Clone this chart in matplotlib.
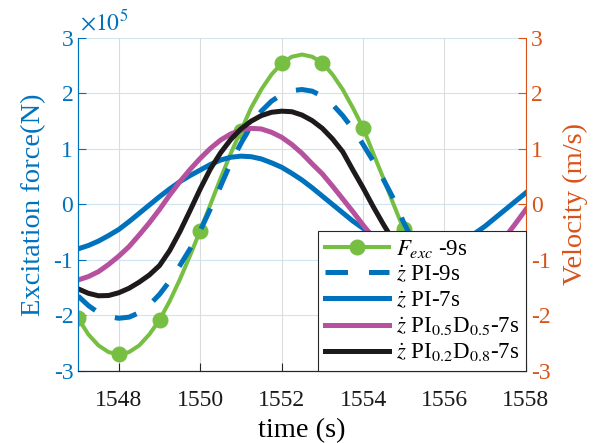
import numpy as np
import matplotlib
matplotlib.use("Agg")
import matplotlib.pyplot as plt

plt.rcParams['font.family'] = ['Liberation Serif', 'DejaVu Serif']
plt.rcParams['mathtext.fontset'] = 'stix'
plt.rcParams['axes.unicode_minus'] = False

# time samples every 0.25 s
t = np.arange(1547, 1558.001, 0.25)

# excitation force, units of 1e5 N (left axis)
F_exc = [-2.05, -2.34, -2.54, -2.66, -2.70, -2.66, -2.54, -2.34,
         -2.08, -1.74, -1.35, -0.92, -0.47, 0.00, 0.47, 0.92,
         1.33, 1.74, 2.07, 2.34, 2.54, 2.66, 2.70, 2.66,
         2.55, 2.34, 2.07, 1.74, 1.38, 0.92, 0.47, 0.00,
         -0.45, -0.92, -1.35, -1.74, -2.07, -2.34, -2.54, -2.66,
         -2.70, -2.66, -2.54, -2.34, -2.07]

# velocities, m/s (right axis)
v_PI_9s = [-1.65, -1.82, -1.95, -2.02, -2.05, -2.03, -1.95, -1.81,
           -1.62, -1.38, -1.10, -0.80, -0.47, -0.08, 0.33, 0.75,
           1.10, 1.42, 1.68, 1.86, 1.98, 2.05, 2.07, 2.04,
           1.95, 1.80, 1.60, 1.36, 1.08, 0.78, 0.45, 0.10,
           -0.33, -0.68, -1.00, -1.30, -1.55, -1.75, -1.90, -2.00,
           -2.05, -2.04, -1.98, -1.85, -1.65]
v_PI_7s = [-0.80, -0.74, -0.66, -0.56, -0.45, -0.31, -0.16, -0.01,
           0.14, 0.28, 0.41, 0.52, 0.62, 0.72, 0.80, 0.85,
           0.87, 0.86, 0.82, 0.75, 0.67, 0.56, 0.44, 0.30,
           0.15, 0.00, -0.15, -0.30, -0.43, -0.56, -0.67, -0.75,
           -0.82, -0.86, -0.87, -0.855, -0.81, -0.74, -0.64, -0.52,
           -0.39, -0.24, -0.09, 0.06, 0.21]
v_PID55_7s = [-1.36, -1.30, -1.21, -1.08, -0.93, -0.76, -0.55, -0.33,
              -0.09, 0.17, 0.41, 0.63, 0.83, 1.01, 1.16, 1.27,
              1.34, 1.37, 1.36, 1.30, 1.21, 1.08, 0.92, 0.73,
              0.55, 0.33, 0.10, -0.13, -0.37, -0.60, -0.84, -1.02,
              -1.16, -1.27, -1.34, -1.37, -1.36, -1.30, -1.21, -1.08,
              -0.92, -0.76, -0.58, -0.34, -0.09]
v_PID28_7s = [-1.52, -1.60, -1.645, -1.64, -1.59, -1.51, -1.40, -1.27,
              -1.10, -0.83, -0.49, -0.11, 0.28, 0.64, 0.93, 1.17,
              1.36, 1.50, 1.60, 1.66, 1.68, 1.67, 1.61, 1.51,
              1.37, 1.18, 0.95, 0.62, 0.30, -0.04, -0.36, -0.66,
              -0.93, -1.16, -1.35, -1.50, -1.60, -1.65, -1.66, -1.62,
              -1.55, -1.44, -1.28, -1.08, -0.85]

labels = [r'$F_{exc}$ -9s', r'$\dot{z}$ PI-9s', r'$\dot{z}$ PI-7s',
          r'$\dot{z}$ PI$_{0.5}$D$_{0.5}$-7s', r'$\dot{z}$ PI$_{0.2}$D$_{0.8}$-7s']

c_green = '#77BF43'
c_blue = '#0072BD'
c_mag = '#B5519F'
c_black = '#1E1A1B'
c_orange = '#D95319'

fig = plt.figure(figsize=(6.01, 4.43), dpi=100)
ax = fig.add_axes([0.13, 0.1625, 0.745, 0.752])
ax2 = ax.twinx()

l0, = ax.plot(t, F_exc, color=c_green, lw=2.9, marker='o', ms=10.5,
              markevery=4, label=labels[0])
l1, = ax2.plot(t, v_PI_9s, color=c_blue, lw=3.6, ls=(0, (4.5, 4.2)),
               dash_capstyle='butt', label=labels[1])
l2, = ax2.plot(t, v_PI_7s, color=c_blue, lw=3.6, label=labels[2])
l3, = ax2.plot(t, v_PID55_7s, color=c_mag, lw=3.6, label=labels[3])
l4, = ax2.plot(t, v_PID28_7s, color=c_black, lw=3.6, label=labels[4])

ax.set_xlim(1547, 1558)
ax.set_ylim(-3, 3)
ax2.set_ylim(-3, 3)
ax.set_xticks([1548, 1550, 1552, 1554, 1556, 1558])
ax.set_yticks([-3, -2, -1, 0, 1, 2, 3])
ax2.set_yticks([-3, -2, -1, 0, 1, 2, 3])

# grid like matlab
for y in [-3, -2, -1, 0, 1, 2, 3]:
    ax.axhline(y, color='#cfe3f1', lw=0.8, zorder=0)
for x in [1548, 1550, 1552, 1554, 1556, 1558]:
    ax.axvline(x, color='#dcdcdc', lw=0.8, zorder=0)

ax.spines['top'].set_visible(False)
ax2.spines['top'].set_visible(False)
ax.spines['right'].set_visible(False)
ax2.spines['left'].set_color(c_blue)
ax2.spines['right'].set_color(c_orange)
ax2.spines['bottom'].set_color('#262626')
ax.spines['left'].set_color(c_blue)
ax.spines['bottom'].set_color('#262626')

ax.tick_params(axis='y', colors=c_blue, direction='in', labelsize=17, length=6)
ax.tick_params(axis='x', colors='#262626', direction='in', labelsize=17,
               length=6, pad=14)
ax2.tick_params(axis='y', colors=c_orange, direction='in', labelsize=17,
                length=6)
for lab in ax.get_xticklabels():
    lab.set_color('#1a1a1a')

ax.set_ylabel('Excitation force(N)', color=c_blue, fontsize=20.5, labelpad=5)
ax2.set_ylabel('Velocity (m/s)', color=c_orange, fontsize=20.5, labelpad=9)
ax.set_xlabel('time (s)', fontsize=20.5, labelpad=5)

ax.text(0.005, 1.01, r'$\times10^{5}$', transform=ax.transAxes, color=c_blue,
        fontsize=17, ha='left', va='bottom')

leg = ax2.legend(handles=[l0, l1, l2, l3, l4], loc='lower right',
                 bbox_to_anchor=(1, 0), borderaxespad=0, fontsize=16.5,
                 handlelength=2.8, labelspacing=0.2, handletextpad=0.3,
                 borderpad=0.3, fancybox=False, framealpha=1,
                 edgecolor='#262626')
leg.get_frame().set_linewidth(0.8)

fig.savefig('out.png', dpi=100)
